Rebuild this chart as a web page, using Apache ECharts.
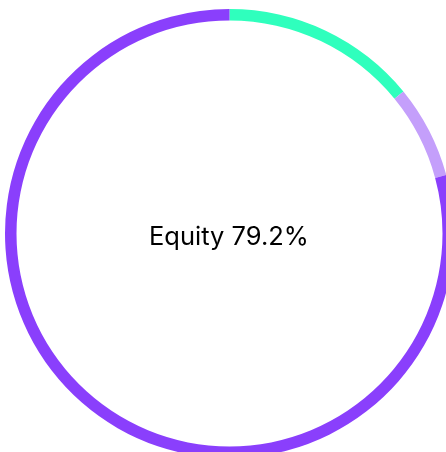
<!DOCTYPE html>
<html>
<head>
<meta charset="utf-8">
<script src="https://cdn.jsdelivr.net/npm/echarts@6/dist/echarts.min.js"></script>
<style>
  html, body { margin: 0; padding: 0; background: #fff; }
  #chart { width: 446px; height: 452px; }
</style>
</head>
<body>
<div id="chart"></div>
<script>
  const categories = ['Fixed Income', 'Alternatives', 'Equity']
  const values = [14.1, 6.7, 79.2]
  const colors = ['#2fffbd', '#c49ffb', '#8a3ffc']
  const centerLabel = 'Equity 79.2%'

  const chart = echarts.init(document.getElementById('chart'))
  chart.setOption({
    animation: false,
    tooltip: { show: false },
    graphic: [
      {
        type: 'text',
        left: 149,
        top: 224,
        style: {
          text: centerLabel,
          font: '25.5px Inter',
          fill: '#000'
        }
      }
    ],
    series: [
      {
        type: 'pie',
        center: [229.5, 233.5],
        radius: [213, 224.5],
        startAngle: 90,
        label: { show: false },
        labelLine: { show: false },
        emphasis: { disabled: true },
        itemStyle: { borderWidth: 0 },
        data: categories.map((name, i) => ({
          name,
          value: values[i],
          itemStyle: { color: colors[i] }
        }))
      }
    ]
  })
</script>
</body>
</html>
